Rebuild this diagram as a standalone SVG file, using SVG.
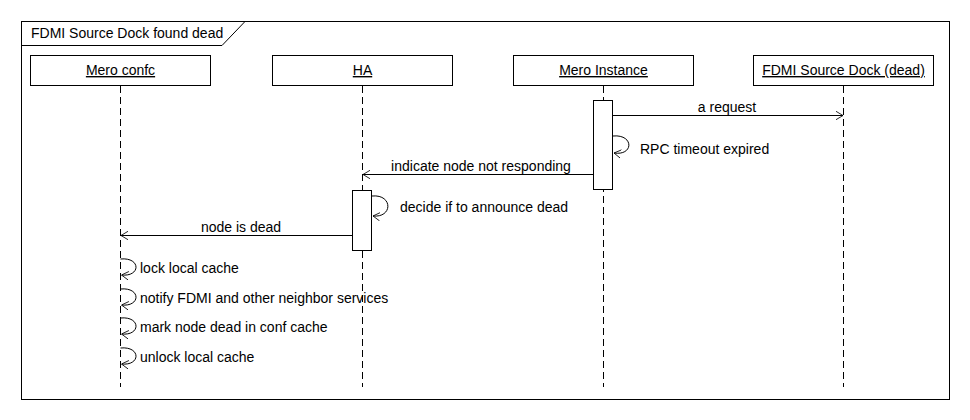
<svg xmlns="http://www.w3.org/2000/svg" width="970" height="420" viewBox="0 0 970 420">
<defs>
<marker id="open" viewBox="0 0 10 12" refX="10" refY="6" markerUnits="userSpaceOnUse" markerWidth="7" markerHeight="10" orient="auto">
<path d="M0,0 L10,6 L0,12" fill="none" stroke="#000" stroke-width="1.2"/>
</marker>
</defs>
<style>
text{font-family:"Liberation Sans",Arial,sans-serif;font-size:14px;fill:#000}
.box{fill:#fff;stroke:#000;stroke-width:1}
.life{stroke:#000;stroke-width:1;stroke-dasharray:7 4;fill:none}
.act{fill:#fff;stroke:#000;stroke-width:1}
.msg{stroke:#000;stroke-width:1;fill:none;marker-end:url(#open)}
.name{text-anchor:middle;text-decoration:underline}
</style>
<rect x="0" y="0" width="970" height="420" fill="#fff"/>
<g id="frame">
<rect x="21.5" y="21.5" width="928" height="378" fill="none" stroke="#000" stroke-width="1"/>
<polyline points="21.5,45.5 222,45.5 245,21.5" fill="none" stroke="#000" stroke-width="1"/>
<text x="31" y="38">FDMI Source Dock found dead</text>
</g>
<g id="lifelines">
<line class="life" x1="120.5" y1="86" x2="120.5" y2="387"/>
<line class="life" x1="362.5" y1="86" x2="362.5" y2="387"/>
<line class="life" x1="603.5" y1="86" x2="603.5" y2="387"/>
<line class="life" x1="843.5" y1="86" x2="843.5" y2="387"/>
</g>
<g id="node-mero-confc">
<rect class="box" x="30.5" y="55.5" width="180" height="30"/>
<text class="name" x="120.5" y="75">Mero confc</text>
</g>
<g id="node-ha">
<rect class="box" x="272.5" y="55.5" width="180" height="30"/>
<text class="name" x="362.5" y="75">HA</text>
</g>
<g id="node-mero-instance">
<rect class="box" x="513.5" y="55.5" width="180" height="30"/>
<text class="name" x="603.5" y="75">Mero Instance</text>
</g>
<g id="node-fdmi">
<rect class="box" x="753.5" y="55.5" width="180" height="30"/>
<text class="name" x="843.5" y="75">FDMI Source Dock (dead)</text>
</g>
<g id="activation-mero-instance">
<rect class="act" x="593.5" y="100.5" width="19" height="89"/>
</g>
<g id="activation-ha">
<rect class="act" x="352.5" y="190.5" width="19" height="60"/>
</g>
<g id="connectors">
<line class="msg" x1="613" y1="115.5" x2="843" y2="115.5"/>
<path class="msg" d="M613,136 C634,134 634,156 614,153"/>
<line class="msg" x1="593" y1="174.5" x2="363" y2="174.5"/>
<path class="msg" d="M372,196 C393,194 393,218 373,216"/>
<line class="msg" x1="352" y1="235.5" x2="121" y2="235.5"/>
<path class="msg" d="M120.5,259 C141,257 141,277 121.5,275"/>
<path class="msg" d="M120.5,289 C141,287 141,307 121.5,305"/>
<path class="msg" d="M120.5,318 C141,316 141,336 121.5,334"/>
<path class="msg" d="M120.5,348 C141,346 141,366 121.5,364"/>
</g>
<g id="labels">
<text x="727" y="112" text-anchor="middle">a request</text>
<text x="640" y="154">RPC timeout expired</text>
<text x="481" y="171" text-anchor="middle">indicate node not responding</text>
<text x="400" y="212">decide if to announce dead</text>
<text x="241" y="232" text-anchor="middle">node is dead</text>
<text x="140" y="273">lock local cache</text>
<text x="140" y="303">notify FDMI and other neighbor services</text>
<text x="140" y="332">mark node dead in conf cache</text>
<text x="140" y="362">unlock local cache</text>
</g>
</svg>
